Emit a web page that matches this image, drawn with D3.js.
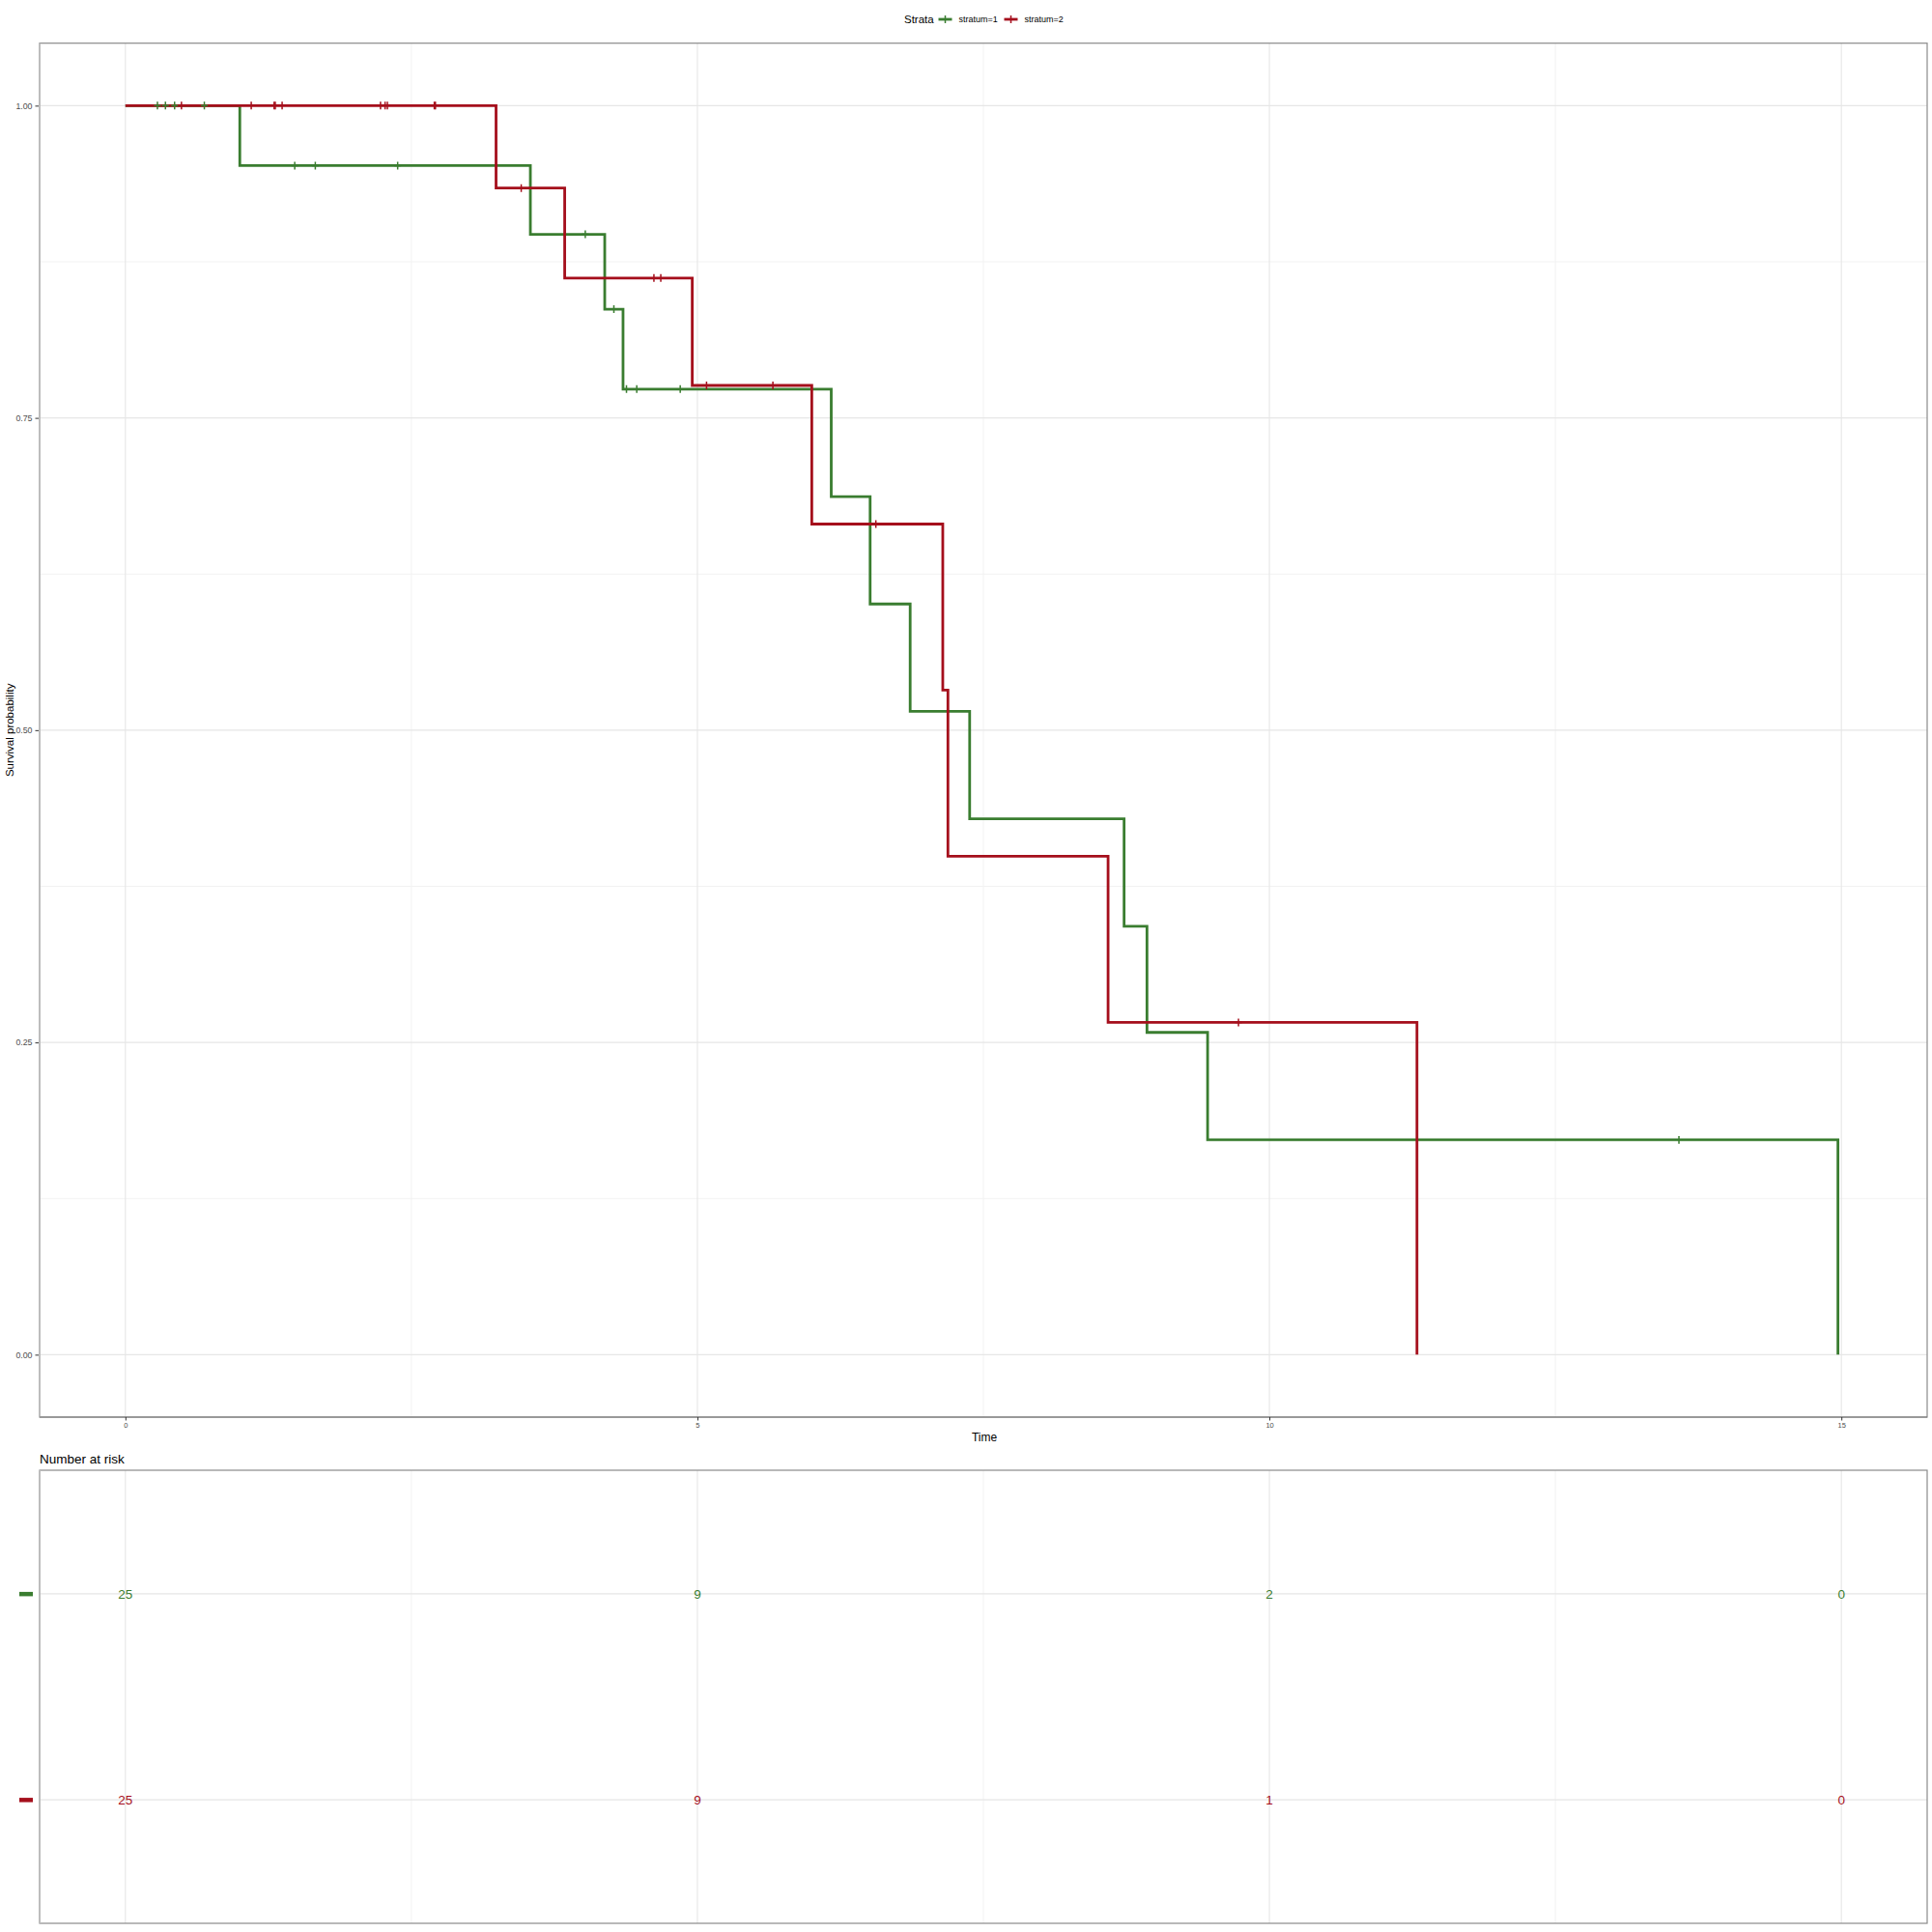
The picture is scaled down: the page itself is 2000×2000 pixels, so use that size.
<!DOCTYPE html>
<html>
<head>
<meta charset="utf-8">
<script src="https://cdn.jsdelivr.net/npm/d3@7"></script>
<style>
  body { margin: 0; background: #fff; }
  svg text { font-family: "Liberation Sans", Arial, Helvetica, sans-serif; }
</style>
</head>
<body>
<svg id="chart" width="2000" height="2000"></svg>
<script>
// ---- data ----
const strata = ["stratum=1", "stratum=2"];
const s1Time = [0, 1.0, 3.54, 4.19, 4.35, 6.17, 6.51, 6.86, 7.38, 8.73, 8.93, 9.46, 14.97];
const s1Surv = [1, 0.952, 0.897, 0.837, 0.773, 0.687, 0.601, 0.515, 0.429, 0.343, 0.258, 0.172, 0];
const s1Censor = [0.28, 0.35, 0.43, 0.69, 1.48, 1.66, 2.38, 4.02, 4.27, 4.38, 4.47, 4.85, 13.58];
const s2Time = [0, 3.24, 3.84, 4.955, 6.0, 7.145, 7.19, 8.59, 11.29];
const s2Surv = [1, 0.934, 0.862, 0.776, 0.665, 0.532, 0.399, 0.266, 0];
const s2Censor = [0.49, 1.10, 1.30, 1.31, 1.37, 2.23, 2.27, 2.29, 2.70, 2.71, 3.46, 4.62, 4.68, 5.08, 5.66, 6.56, 9.73];
const riskTimes = [0, 5, 10, 15];
const risk1 = [25, 9, 2, 0];
const risk2 = [25, 9, 1, 0];
const xTicks = [0, 5, 10, 15];
const yTicks = [0, 0.25, 0.5, 0.75, 1.0];
const yTickLabels = ["0.00", "0.25", "0.50", "0.75", "1.00"];

const colors = ["#3a7d30", "#a50f1c"];

const series = [
  { name: strata[0], time: s1Time, surv: s1Surv, censor: s1Censor, risk: risk1, color: colors[0] },
  { name: strata[1], time: s2Time, surv: s2Surv, censor: s2Censor, risk: risk2, color: colors[1] }
];

const svg = d3.select("#chart");
svg.append("rect").attr("width", 2000).attr("height", 2000).attr("fill", "#fff");

// ---- main panel ----
const P = { left: 41, right: 1995, top: 44.7, bottom: 1467 };
const x = d3.scaleLinear().domain([-0.75, 15.75]).range([P.left, P.right]);
const y = d3.scaleLinear().domain([-0.05, 1.05]).range([P.bottom, P.top]);

const g = svg.append("g");
const xMinor = [2.5, 7.5, 12.5];
const yMinor = [0.125, 0.375, 0.625, 0.875];
g.selectAll(".xminor").data(xMinor).join("line")
  .attr("x1", d => x(d)).attr("x2", d => x(d)).attr("y1", P.top).attr("y2", P.bottom)
  .attr("stroke", "#f2f2f2").attr("stroke-width", 1);
g.selectAll(".yminor").data(yMinor).join("line")
  .attr("y1", d => y(d)).attr("y2", d => y(d)).attr("x1", P.left).attr("x2", P.right)
  .attr("stroke", "#f2f2f2").attr("stroke-width", 1);
g.selectAll(".xmajor").data(xTicks).join("line")
  .attr("x1", d => x(d)).attr("x2", d => x(d)).attr("y1", P.top).attr("y2", P.bottom)
  .attr("stroke", "#e6e6e6").attr("stroke-width", 1.1);
g.selectAll(".ymajor").data(yTicks).join("line")
  .attr("y1", d => y(d)).attr("y2", d => y(d)).attr("x1", P.left).attr("x2", P.right)
  .attr("stroke", "#e6e6e6").attr("stroke-width", 1.1);

const line = d3.line().x(d => x(d[0])).y(d => y(d[1])).curve(d3.curveStepAfter);
function survAt(s, t) {
  let v = s.surv[0];
  for (let i = 0; i < s.time.length; i++) { if (s.time[i] <= t) v = s.surv[i]; }
  return v;
}
series.forEach(s => {
  const pts = s.time.map((t, i) => [t, s.surv[i]]);
  g.append("path").attr("d", line(pts)).attr("fill", "none")
    .attr("stroke", s.color).attr("stroke-width", 2.8).attr("stroke-linejoin", "miter");
});
series.forEach(s => {
  g.selectAll(null).data(s.censor).join("path")
    .attr("d", d => {
      const cx = x(d), cy = y(survAt(s, d));
      return `M${cx - 3.5},${cy}H${cx + 3.5}M${cx},${cy - 4}V${cy + 4}`;
    })
    .attr("stroke", s.color).attr("stroke-width", 1.5).attr("fill", "none");
});

svg.append("rect").attr("x", P.left).attr("y", P.top)
  .attr("width", P.right - P.left).attr("height", P.bottom - P.top)
  .attr("fill", "none").attr("stroke", "#8a8a8a").attr("stroke-width", 1.2);
svg.append("line").attr("x1", P.left).attr("x2", P.left).attr("y1", P.top).attr("y2", P.bottom)
  .attr("stroke", "#bdbdbd").attr("stroke-width", 2);
svg.append("line").attr("x1", P.left).attr("x2", P.right).attr("y1", P.bottom).attr("y2", P.bottom)
  .attr("stroke", "#7a7a7a").attr("stroke-width", 1.2);

const yAxis = d3.axisLeft(y).tickValues(yTicks).tickFormat((d, i) => yTickLabels[i])
  .tickSize(3.5).tickPadding(3);
const ya = svg.append("g").attr("transform", `translate(${P.left - 1},0)`).call(yAxis);
ya.select(".domain").remove();
ya.selectAll(".tick line").attr("stroke", "#333");
ya.selectAll(".tick text").attr("fill", "#4d4d4d").attr("font-size", 8.8)
  .style("font-family", '"Liberation Sans", Arial, sans-serif');

const xAxis = d3.axisBottom(x).tickValues(xTicks).tickFormat(d3.format("d"))
  .tickSize(3.5).tickPadding(2);
const xa = svg.append("g").attr("transform", `translate(0,${P.bottom})`).call(xAxis);
xa.select(".domain").remove();
xa.selectAll(".tick line").attr("stroke", "#333");
xa.selectAll(".tick text").attr("fill", "#4d4d4d").attr("font-size", 7.5)
  .style("font-family", '"Liberation Sans", Arial, sans-serif');

svg.append("text").attr("x", (P.left + P.right) / 2 + 1).attr("y", 1492)
  .attr("text-anchor", "middle").attr("font-size", 12).attr("fill", "#000").text("Time");
svg.append("text").attr("transform", `translate(14,${(P.top + P.bottom) / 2}) rotate(-90)`)
  .attr("text-anchor", "middle").attr("font-size", 11.5).attr("fill", "#000").text("Survival probability");

const lg = svg.append("g");
lg.append("text").attr("x", 936).attr("y", 24).attr("font-size", 11.5).attr("fill", "#000").text("Strata");
const legX = [971.5, 1039.5];
const legTextX = [992.5, 1060.5];
series.forEach((s, i) => {
  lg.append("line").attr("x1", legX[i]).attr("x2", legX[i] + 14).attr("y1", 20).attr("y2", 20)
    .attr("stroke", s.color).attr("stroke-width", 2.8);
  lg.append("line").attr("x1", legX[i] + 7).attr("x2", legX[i] + 7).attr("y1", 16).attr("y2", 24)
    .attr("stroke", s.color).attr("stroke-width", 1.5);
  lg.append("text").attr("x", legTextX[i]).attr("y", 23).attr("font-size", 9).attr("fill", "#000").text(s.name);
});

// ---- risk table ----
const R = { left: 41, right: 1995, top: 1522, bottom: 1991 };
const yr = d3.scaleLinear().domain([0.4, 2.6]).range([R.top, R.bottom]);
svg.append("text").attr("x", 41).attr("y", 1515).attr("font-size", 13.5).attr("fill", "#000").text("Number at risk");
const rg = svg.append("g");
rg.selectAll(".rminor").data(xMinor).join("line")
  .attr("x1", d => x(d)).attr("x2", d => x(d)).attr("y1", R.top).attr("y2", R.bottom)
  .attr("stroke", "#f2f2f2").attr("stroke-width", 1);
rg.selectAll(".rmajor").data(xTicks).join("line")
  .attr("x1", d => x(d)).attr("x2", d => x(d)).attr("y1", R.top).attr("y2", R.bottom)
  .attr("stroke", "#e6e6e6").attr("stroke-width", 1.1);
rg.selectAll(".rrow").data([1, 2]).join("line")
  .attr("y1", d => yr(d)).attr("y2", d => yr(d)).attr("x1", R.left).attr("x2", R.right)
  .attr("stroke", "#e6e6e6").attr("stroke-width", 1.1);
series.forEach((s, i) => {
  rg.selectAll(null).data(riskTimes.map((t, j) => [t, s.risk[j]])).join("text")
    .attr("x", d => x(d[0])).attr("y", yr(i + 1) + 5)
    .attr("text-anchor", "middle").attr("font-size", 13.5).attr("fill", s.color)
    .text(d => d[1]);
  rg.append("rect").attr("x", 20).attr("y", yr(i + 1) - 2).attr("width", 14).attr("height", 4.5)
    .attr("fill", s.color);
});
svg.append("rect").attr("x", R.left).attr("y", R.top)
  .attr("width", R.right - R.left).attr("height", R.bottom - R.top)
  .attr("fill", "none").attr("stroke", "#8a8a8a").attr("stroke-width", 1.2);
svg.append("line").attr("x1", R.left).attr("x2", R.left).attr("y1", R.top).attr("y2", R.bottom)
  .attr("stroke", "#bdbdbd").attr("stroke-width", 2);
</script>
</body>
</html>
